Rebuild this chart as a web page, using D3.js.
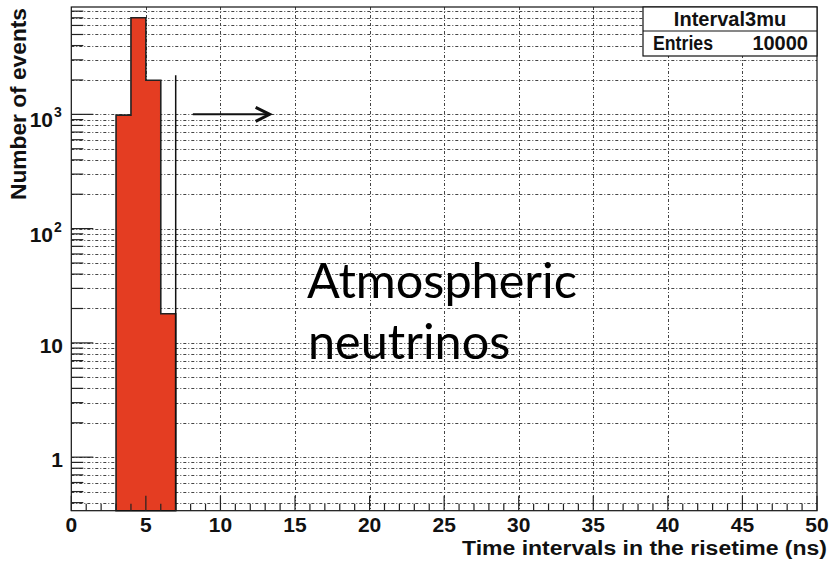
<!DOCTYPE html>
<html>
<head>
<meta charset="utf-8">
<script src="https://cdn.jsdelivr.net/npm/d3@7"></script>
<style>
  html, body { margin: 0; padding: 0; background: #fff; }
  svg { display: block; }
  .root { font-family: "Liberation Sans", Arial, Helvetica, sans-serif; font-weight: bold; }
</style>
</head>
<body>
<svg id="chart" width="831" height="561"></svg>
<script>
// ---- data ----
const binEdges = [3, 4, 5, 6, 7];            // histogram bin lower edges + last upper edge
const binCounts = [985, 7010, 1987, 18];      // events per bin
const xTickValues = [0, 5, 10, 15, 20, 25, 30, 35, 40, 45, 50];
const xTickLabels = ["0", "5", "10", "15", "20", "25", "30", "35", "40", "45", "50"];
const yMajorValues = [1, 10, 100, 1000];
const yMajorLabels = [["1", ""], ["10", ""], ["10", "2"], ["10", "3"]];
const cutLine = { x: 7, top: 2200 };
const arrow = { x0: 8.15, x1: 13.3, y: 1000 };
const statsName = "Interval3mu";
const statsEntries = ["Entries", "10000"];
const xTitle = "Time intervals in the risetime (ns)";
const yTitle = "Number of events";
const annotation = ["Atmospheric", "neutrinos"];

// ---- layout ----
const L = 71.3, R = 817, T = 7, B = 510.7;
const svg = d3.select("#chart");
const x = d3.scaleLinear().domain([0, 50]).range([L, R]);
const y = d3.scaleLog().domain([0.34, 8700]).range([B, T]);

// grid
const grid = svg.append("g").attr("stroke", "#444").attr("stroke-width", 1).attr("stroke-dasharray", "3,2,1,2");
y.ticks().forEach(v => {
  grid.append("line").attr("x1", L).attr("x2", R).attr("y1", Math.round(y(v)) + 0.5).attr("y2", Math.round(y(v)) + 0.5);
});
xTickValues.slice(1, -1).forEach(v => {
  grid.append("line").attr("x1", Math.round(x(v)) + 0.5).attr("x2", Math.round(x(v)) + 0.5).attr("y1", T).attr("y2", B);
});

// histogram
const pts = binCounts.map((c, i) => ({ x: binEdges[i], v: c }));
pts.push({ x: binEdges[binEdges.length - 1], v: binCounts[binCounts.length - 1] });
const area = d3.area().x(d => x(d.x)).y0(B).y1(d => y(d.v)).curve(d3.curveStepAfter);
svg.append("path").datum(pts).attr("d", area)
  .attr("fill", "#e43d22").attr("stroke", "#222").attr("stroke-width", 1.6);

// cut line
svg.append("line").attr("x1", x(cutLine.x)).attr("x2", x(cutLine.x))
  .attr("y1", y(cutLine.top)).attr("y2", B).attr("stroke", "#111").attr("stroke-width", 1.5);

// arrow
svg.append("line").attr("x1", x(arrow.x0)).attr("x2", x(arrow.x1) - 1)
  .attr("y1", y(arrow.y)).attr("y2", y(arrow.y)).attr("stroke", "#111").attr("stroke-width", 2);
const ax = x(arrow.x1), ay = y(arrow.y);
svg.append("path").attr("d", `M${ax - 14},${ay - 7} L${ax},${ay} L${ax - 14},${ay + 7}`)
  .attr("fill", "none").attr("stroke", "#111").attr("stroke-width", 3).attr("stroke-linejoin", "miter");

// frame
svg.append("rect").attr("x", L).attr("y", T).attr("width", R - L).attr("height", B - T)
  .attr("fill", "none").attr("stroke", "#111").attr("stroke-width", 1.2);

// x ticks
const xt = svg.append("g").attr("stroke", "#222").attr("stroke-width", 1.2);
d3.range(0, 51, 1).forEach(v => {
  const major = v % 5 === 0;
  xt.append("line").attr("x1", x(v)).attr("x2", x(v)).attr("y1", B).attr("y2", B - (major ? 15 : 7));
});
// y ticks
const yt = svg.append("g").attr("stroke", "#222").attr("stroke-width", 1.2);
y.ticks().forEach(v => {
  const major = yMajorValues.includes(v);
  yt.append("line").attr("x1", L).attr("x2", L + (major ? 22 : 12)).attr("y1", y(v)).attr("y2", y(v));
});

// x tick labels
const tl = svg.append("g").attr("class", "root").attr("font-size", 21).attr("fill", "#111");
xTickValues.forEach((v, i) => {
  tl.append("text").attr("x", x(v)).attr("y", 532).attr("text-anchor", "middle").text(xTickLabels[i]);
});
// y tick labels
yMajorValues.forEach((v, i) => {
  const [base, sup] = yMajorLabels[i];
  if (sup) {
    tl.append("text").attr("x", 53).attr("y", y(v) + 13).attr("text-anchor", "end").text(base);
    tl.append("text").attr("x", 54).attr("y", y(v) + 3).attr("font-size", 14).text(sup);
  } else {
    tl.append("text").attr("x", 63).attr("y", y(v) + 10).attr("text-anchor", "end").text(base);
  }
});

// axis titles
svg.append("text").attr("class", "root").attr("font-size", 20).attr("fill", "#111")
  .attr("x", R + 10).attr("y", 555).attr("text-anchor", "end")
  .attr("textLength", 365).attr("lengthAdjust", "spacingAndGlyphs").text(xTitle);
svg.append("text").attr("class", "root").attr("font-size", 22).attr("fill", "#111")
  .attr("transform", "translate(26,8) rotate(-90)").attr("text-anchor", "end")
  .attr("textLength", 192).attr("lengthAdjust", "spacingAndGlyphs").text(yTitle);

// stats box
const sb = { x0: 643, x1: 817, y0: 7, ym: 31, y1: 56 };
svg.append("rect").attr("x", sb.x0).attr("y", sb.y0).attr("width", sb.x1 - sb.x0).attr("height", sb.y1 - sb.y0)
  .attr("fill", "#fff").attr("stroke", "#111").attr("stroke-width", 1.2);
svg.append("line").attr("x1", sb.x0).attr("x2", sb.x1).attr("y1", sb.ym).attr("y2", sb.ym)
  .attr("stroke", "#111").attr("stroke-width", 1.2);
const st = svg.append("g").attr("class", "root").attr("font-size", 20).attr("fill", "#111");
st.append("text").attr("x", 730).attr("y", 26).attr("text-anchor", "middle").text(statsName);
st.append("text").attr("x", 653).attr("y", 50).attr("textLength", 60).attr("lengthAdjust", "spacingAndGlyphs").text(statsEntries[0]);
st.append("text").attr("x", 808).attr("y", 50).attr("text-anchor", "end").text(statsEntries[1]);

// annotation
const ann = svg.append("g").attr("font-family", "Lato, 'Open Sans', sans-serif").attr("fill", "#000");
const t1 = ann.append("text").attr("x", 307).attr("y", 298).attr("font-size", 48).text(annotation[0]);
const w = t1.node().getComputedTextLength();
const fs = 48 * 270 / w;
t1.attr("font-size", fs);
ann.append("text").attr("x", 308).attr("y", 359).attr("font-size", fs).text(annotation[1]);
</script>
</body>
</html>
